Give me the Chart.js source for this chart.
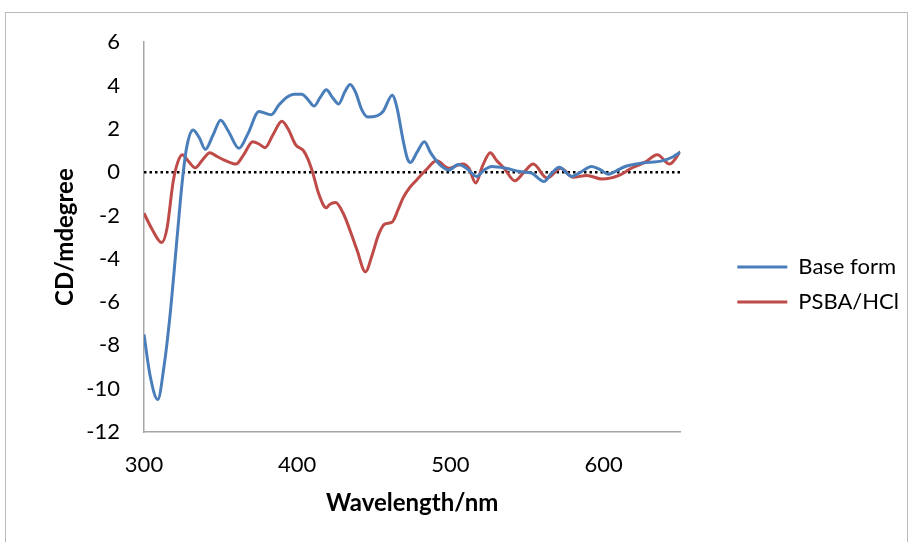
<!DOCTYPE html>
<html>
<head>
<meta charset="utf-8">
<script src="https://cdn.jsdelivr.net/npm/chart.js@4.4.1/dist/chart.umd.min.js"></script>
<style>
  body { margin: 0; background: #fff; }
  #frame {
    position: absolute; left: 5px; top: 12px;
    width: 901px; height: 540px;
    border: 1px solid #bcbcbc;
  }
  #cd { position: absolute; left: 6px; top: 5px; }
</style>
</head>
<body>
<div id="frame"></div>
<canvas id="cd" width="901" height="537"></canvas>
<script>
// CD spectra
const baseNm = [300, 304, 309, 313, 317, 322, 325, 328, 332, 336, 340, 345, 350, 355, 362, 368, 375, 383, 388, 393,
  398, 403, 407, 411, 415, 419, 423, 427, 431, 434.5, 438, 442, 446, 452, 456, 462, 465, 469, 472, 474,
  478, 483, 487, 493, 499, 505, 511, 517, 522, 527, 536, 545, 553, 561, 566, 571, 579, 585, 592, 598,
  603, 608, 614, 625, 638, 645, 650];
const baseCD = [-7.5, -9.4, -10.5, -9.0, -6.6, -2.7, -0.4, 1.2, 1.95, 1.6, 1.05, 1.7, 2.4, 1.9, 1.1, 1.8, 2.8, 2.65, 3.1, 3.45,
  3.6, 3.6, 3.35, 3.05, 3.45, 3.8, 3.45, 3.15, 3.7, 4.05, 3.7, 2.9, 2.55, 2.6, 2.8, 3.55, 3.0, 1.5, 0.6, 0.45,
  0.9, 1.4, 0.9, 0.35, 0.1, 0.35, 0.15, -0.2, 0.1, 0.26, 0.18, 0.03, -0.05, -0.43, -0.05, 0.23, -0.2, 0.0, 0.26, 0.1,
  -0.1, 0.05, 0.26, 0.42, 0.52, 0.7, 0.92];

const acidNm = [300, 305, 311.5, 315, 319, 322, 325, 329, 333.5, 338, 343, 347, 352, 360, 365, 371, 375, 379, 384, 390,
  394, 399, 404, 407, 410, 414, 419, 421, 425, 430, 435, 439, 444.5, 449, 453, 457, 462, 466, 469, 473,
  477, 484, 491, 499, 504, 508, 512, 516.5, 521, 526, 530, 535, 542, 548, 554, 563, 572, 580, 589, 599,
  610, 618, 627, 635, 643, 650];
const acidCD = [-1.9, -2.6, -3.25, -2.6, -0.45, 0.45, 0.8, 0.5, 0.2, 0.55, 0.9, 0.75, 0.57, 0.37, 0.8, 1.4, 1.3, 1.13, 1.7, 2.35,
  2.0, 1.26, 1.0, 0.6, 0.0, -1.0, -1.65, -1.5, -1.4, -1.9, -2.8, -3.6, -4.6, -3.8, -2.9, -2.4, -2.3, -1.7, -1.2, -0.75,
  -0.43, 0.1, 0.52, 0.18, 0.3, 0.37, 0.18, -0.5, 0.3, 0.9, 0.55, 0.18, -0.4, 0.0, 0.37, -0.27, 0.18, -0.24, -0.15, -0.32,
  -0.15, 0.18, 0.46, 0.8, 0.37, 0.95];

const seriesNames = ['Base form', 'PSBA/HCl'];
const xTicks = [300, 400, 500, 600];
const xRange = [300, 650];
const yRange = [-12, 6];

const pts = (xs, ys) => xs.map((x, i) => ({ x: x, y: ys[i] }));

// dotted line along y = 0
const zeroLine = {
  id: 'zeroLine',
  beforeDatasetsDraw(chart) {
    const { ctx, chartArea, scales } = chart;
    const y = scales.y.getPixelForValue(0);
    ctx.save();
    ctx.strokeStyle = '#000';
    ctx.lineWidth = 2.5;
    ctx.setLineDash([2.5, 3]);
    ctx.beginPath();
    ctx.moveTo(chartArea.left, y);
    ctx.lineTo(chartArea.right, y);
    ctx.stroke();
    ctx.restore();
  }
};

// push the legend away from the plot like the Excel original
const legendShift = {
  id: 'legendShift',
  afterLayout(chart) {
    const lg = chart.legend;
    lg.left += 44;
    lg.right += 44;
    lg.top += 22;
  }
};

const tickFont = { family: 'Lato', size: 22 };
const titleFont = { family: 'Lato', size: 24, weight: 'bold' };

function draw() {
  new Chart(document.getElementById('cd').getContext('2d'), {
    type: 'line',
    data: {
      datasets: [{
        label: seriesNames[0],
        data: pts(baseNm, baseCD),
        borderColor: '#4a7ebb',
        backgroundColor: '#4a7ebb',
        borderWidth: 3,
        pointRadius: 0,
        cubicInterpolationMode: 'monotone'
      }, {
        label: seriesNames[1],
        data: pts(acidNm, acidCD),
        borderColor: '#be4b48',
        backgroundColor: '#be4b48',
        borderWidth: 3,
        pointRadius: 0,
        cubicInterpolationMode: 'monotone'
      }]
    },
    options: {
      responsive: false,
      animation: false,
      layout: { padding: { top: 0, left: 0, right: 42, bottom: 0 } },
      plugins: {
        tooltip: { enabled: false },
        legend: {
          position: 'right',
          labels: {
            usePointStyle: true,
            pointStyle: 'line',
            pointStyleWidth: 50,
            boxWidth: 50,
            padding: 13,
            color: '#000',
            font: { family: 'Lato', size: 22 }
          }
        }
      },
      scales: {
        x: {
          type: 'linear',
          min: xRange[0],
          max: xRange[1],
          afterBuildTicks: s => { s.ticks = xTicks.map(v => ({ value: v })); },
          afterFit: s => { s.height = 110; },
          grid: { display: false, drawTicks: false },
          border: { color: '#a6a6a6', width: 1.5 },
          ticks: { color: '#000', font: tickFont, padding: 20 },
          title: { display: true, text: 'Wavelength/nm', color: '#000', font: titleFont, padding: { top: 0, bottom: 24 } }
        },
        y: {
          min: yRange[0],
          max: yRange[1],
          afterFit: s => { s.width = 138; },
          grid: { display: false, drawTicks: false },
          border: { color: '#a6a6a6', width: 1.5 },
          ticks: { stepSize: 2, color: '#000', font: tickFont, padding: 24 },
          title: { display: true, text: 'CD/mdegree', color: '#000', font: titleFont, padding: { top: 45, bottom: 0 } }
        }
      }
    },
    plugins: [zeroLine, legendShift]
  });
}

Promise.all([
  document.fonts.load('22px Lato'),
  document.fonts.load('bold 24px Lato')
]).then(draw, draw);
</script>
</body>
</html>
